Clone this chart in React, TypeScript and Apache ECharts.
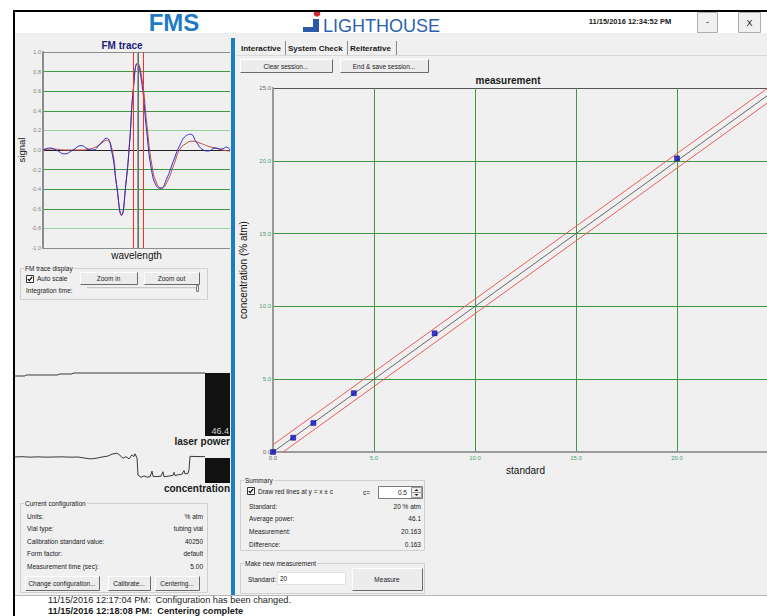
import React, { useEffect, useRef } from 'react';
import * as echarts from 'echarts';

const FONT = '"Liberation Sans", Arial, Helvetica, sans-serif';

// FM trace: scan position (0–100 across the window) and normalised signal
const fmBluePos = [0, 3.6, 7, 11.6, 16, 20.5, 24, 26.8, 30.4, 34, 36.6, 39.3, 42, 44.3, 46.4, 48.2, 50.4, 52.7, 55.4, 58, 60.7, 63, 66, 69.6, 73.2, 76.8, 79, 82, 85.7, 88.4, 92, 95.5, 98.2, 100];
const fmBlueSig = [0, 0.02, 0, -0.04, 0, 0.045, 0.01, 0, 0.06, 0.12, 0, -0.35, -0.66, -0.35, 0.1, 0.6, 0.88, 0.7, 0.2, -0.2, -0.37, -0.39, -0.3, -0.12, 0.05, 0.15, 0.16, 0.08, 0, -0.01, 0.02, 0.01, 0.03, 0];
const fmRedPos = [0, 5, 12, 20, 25, 30, 34, 37, 39.3, 42, 44.3, 46.4, 48.2, 50.6, 53, 55.6, 58.2, 61, 63.5, 66.5, 70, 73, 76, 80, 84, 88, 92, 96, 100];
const fmRedSig = [0, 0.01, 0, 0, 0.01, 0.05, 0.1, 0, -0.35, -0.67, -0.35, 0.1, 0.6, 0.89, 0.72, 0.25, -0.15, -0.35, -0.39, -0.32, -0.15, 0, 0.06, 0.09, 0.07, 0.04, 0.02, 0, -0.01];
const fmWindow = [48.1, 53.5];
const fmCentre = [50.3, 50.9];

// Laser power strip (sample index, power)
const laserT = [0, 11, 12, 44, 45, 58, 59, 191];
const laserP = [46.25, 46.25, 46.3, 46.3, 46.35, 46.35, 46.4, 46.4];

// Concentration strip (sample index, % atm)
const concT = [0, 8, 16, 24, 32, 40, 48, 56, 64, 70, 76, 82, 88, 94, 98, 103, 106, 109, 112, 115, 118, 120, 121, 123, 124, 127, 130, 133, 136, 138, 139, 143, 147, 149, 150, 155, 159, 160, 161, 165, 168, 170, 171, 174, 175, 176, 183, 191];
const concV = [20.0, 20.2, 19.9, 20.1, 19.9, 20.0, 20.1, 19.9, 20.0, 19.4, 18.8, 19.2, 20.0, 20.6, 21.8, 22.4, 21.0, 19.2, 20.2, 18.8, 21.4, 20.2, 22.0, 19.5, 8.6, 7.3, 8.2, 7.4, 7.6, 11.2, 7.9, 7.8, 8.0, 10.8, 7.7, 8.1, 8.5, 10.4, 8.4, 9.0, 9.2, 11.6, 9.4, 9.8, 12.0, 20.4, 20.3, 20.2];

// System check: standards vs measured concentration
const standards = [0, 1, 2, 4, 8, 20];
const measured = [0, 0.98, 1.99, 4.04, 8.15, 20.163];
const cBand = 0.5;

// Panel texts
const tabLabels = ['Interactive', 'System Check', 'Reiterative'];
const configLabels = ['Units:', 'Vial type:', 'Calibration standard value:', 'Form factor:', 'Measurement time (sec):'];
const configValues = ['% atm', 'tubing vial', '40250', 'default', '5.00'];
const summaryLabels = ['Standard:', 'Average power:', 'Measurement:', 'Difference:'];
const summaryValues = ['20 % atm', '46.1', '20.163', '0.163'];
const statusLines = [
  '11/15/2016 12:17:04 PM:  Configuration has been changed.',
  '11/15/2016 12:18:08 PM:  Centering complete',
];

const zip = (a: number[], b: number[]) => a.map((v, i) => [v, b[i]]);
const fmt1 = (v: number) => (Math.abs(v) < 1e-9 ? 0 : v).toFixed(1);

const BG = '#f0f0f0';

function text(x: number, y: number, s: string, size = 6.5, o: any = {}): any {
  const align = o.align || 'left';
  return {
    type: 'text',
    x,
    y,
    z: o.z ?? 30,
    rotation: o.rotation || 0,
    style: {
      text: s,
      fill: o.fill || '#1a1a1a',
      fontSize: size,
      fontWeight: o.bold ? 'bold' : 'normal',
      fontFamily: FONT,
      textAlign: align,
      textVerticalAlign: 'middle',
      align,
      verticalAlign: 'middle',
      backgroundColor: o.bg,
      padding: o.bg ? [0, 1] : 0,
    },
  };
}

function rect(x: number, y: number, w: number, h: number, fill: string | null, stroke?: string, z = 20, lw = 1): any {
  return {
    type: 'rect',
    z,
    shape: { x, y, width: w, height: h },
    style: { fill: fill || 'none', stroke: stroke || 'none', lineWidth: lw },
  };
}

function button(x: number, y: number, w: number, h: number, label: string, size = 6.5): any[] {
  return [
    rect(x + 0.5, y + 0.5, w, h, '#ececec', '#ffffff', 22),
    {
      type: 'polyline',
      z: 23,
      shape: { points: [[x + w + 0.5, y + 0.5], [x + w + 0.5, y + h + 0.5], [x + 0.5, y + h + 0.5]] },
      style: { stroke: '#6a6a6a', fill: 'none', lineWidth: 1 },
    },
    text(x + w / 2, y + h / 2 + 0.5, label, size, { align: 'center' }),
  ];
}

function groupBox(x: number, y: number, w: number, h: number, title: string): any[] {
  return [rect(x + 0.5, y + 0.5, w, h, null, '#cfcfcf', 21), text(x + 4, y, title, 6.5, { bg: BG })];
}

function checkbox(x: number, y: number): any[] {
  return [
    rect(x + 0.5, y + 0.5, 7, 7, '#ffffff', '#333333', 24),
    {
      type: 'polyline',
      z: 25,
      shape: { points: [[x + 1.8, y + 3.8], [x + 3.3, y + 5.6], [x + 6.2, y + 1.8]] },
      style: { stroke: '#000', fill: 'none', lineWidth: 1.2 },
    },
  ];
}

function buildGraphics(): any[] {
  const g: any[] = [];
  // window body
  g.push(rect(0, 0, 767, 616, '#ffffff', undefined, -20));
  g.push(rect(15, 33, 752, 562, BG, undefined, -19));
  g.push(rect(15, 595, 752, 21, '#ffffff', undefined, -19));
  g.push({ type: 'line', z: -18, shape: { x1: 15, y1: 595.5, x2: 767, y2: 595.5 }, style: { stroke: '#b8b8b8', lineWidth: 1 } });
  g.push(rect(14, 11, 770, 620, null, '#000000', 40, 2));
  g.push(rect(231, 38, 4, 557, '#1c7dc0', undefined, 35));

  // header
  g.push(text(174, 22, 'FMS', 24, { bold: true, fill: '#1f7ac6', align: 'center' }));
  g.push({ type: 'circle', z: 30, shape: { cx: 317, cy: 13.5, r: 3.3 }, style: { fill: '#d42a2e' } });
  g.push(rect(313, 19, 6, 13, '#2a5aa8', undefined, 30));
  g.push(rect(303, 27, 16, 5, '#2a5aa8', undefined, 30));
  g.push(text(323, 25.5, 'LIGHTHOUSE', 18, { fill: '#2d62ae' }));
  g.push(text(630, 21.5, '11/15/2016 12:34:52 PM', 7.5, { bold: true, align: 'center' }));
  g.push(rect(697.5, 12.5, 20, 20, BG, '#adadad', 30));
  g.push(text(707.5, 22, '-', 9, { align: 'center' }));
  g.push(rect(738.5, 12.5, 22, 20, BG, '#adadad', 30));
  g.push(text(749.5, 22.5, 'X', 9, { align: 'center' }));

  // FM trace panel
  g.push(text(122, 45.5, 'FM trace', 10, { bold: true, fill: '#1c1c78', align: 'center' }));
  g.push(...groupBox(20, 268, 187, 31, 'FM trace display'));
  g.push(...checkbox(26, 275));
  g.push(text(37, 278.5, 'Auto scale'));
  g.push(...button(80, 272, 57, 12, 'Zoom in'));
  g.push(...button(144, 272, 55, 12, 'Zoom out'));
  g.push(text(26, 290.5, 'Integration time:'));
  g.push(rect(87, 287.5, 111, 1, '#a0a0a0', undefined, 24));
  g.push(rect(87, 288.5, 111, 1, '#ffffff', undefined, 24));
  g.push(rect(196.5, 285.5, 2, 6, '#e8e8e8', '#7a7a7a', 25));

  // strip readouts
  g.push(rect(205, 373, 25, 63, '#111111', undefined, 25));
  g.push(text(229, 431, '46.4', 9, { fill: '#d0d0d0', align: 'right' }));
  g.push(text(230, 441, 'laser power', 10, { bold: true, align: 'right' }));
  g.push(rect(205, 458, 25, 25, '#111111', undefined, 25));
  g.push(text(230, 488.5, 'concentration', 10, { bold: true, align: 'right' }));

  // current configuration
  g.push(...groupBox(20, 503, 187, 89, 'Current configuration'));
  const rowsY = [516, 528.5, 541, 553.5, 566];
  configLabels.forEach((l, i) => {
    g.push(text(27, rowsY[i], l));
    g.push(text(203, rowsY[i], configValues[i], 6.5, { align: 'right' }));
  });
  g.push(...button(25, 576, 74, 14, 'Change configuration...'));
  g.push(...button(108, 576, 42, 14, 'Calibrate...'));
  g.push(...button(155, 576, 44, 14, 'Centering...'));

  // tabs
  const tabX = [241, 288, 350];
  tabLabels.forEach((t, i) => g.push(text(tabX[i], 48, t, 8, { bold: true })));
  [285, 347, 396].forEach((x) =>
    g.push({ type: 'line', z: 24, shape: { x1: x + 0.5, y1: 41, x2: x + 0.5, y2: 55 }, style: { stroke: '#8a8a8a', lineWidth: 1 } })
  );
  g.push({ type: 'line', z: 24, shape: { x1: 236, y1: 55.5, x2: 767, y2: 55.5 }, style: { stroke: '#d8d8d8', lineWidth: 1 } });
  g.push(...button(240, 59, 92, 13, 'Clear session...'));
  g.push(...button(340, 59, 88, 13, 'End & save session...'));
  g.push(text(508, 80, 'measurement', 10, { bold: true, align: 'center' }));

  // summary
  g.push(...groupBox(240, 480, 184, 70, 'Summary'));
  g.push(...checkbox(247, 487));
  g.push(text(258, 491, 'Draw red lines at y = x \u00b1 c'));
  g.push(text(363, 492, 'c='));
  g.push(rect(378.5, 486.5, 44, 12, '#ffffff', '#7a7a7a', 24));
  g.push(text(407, 492.5, String(cBand), 6.5, { align: 'right' }));
  g.push(rect(411.5, 487.5, 10, 5, '#ececec', '#9a9a9a', 25));
  g.push(rect(411.5, 492.5, 10, 5, '#ececec', '#9a9a9a', 25));
  g.push({ type: 'polygon', z: 26, shape: { points: [[414.5, 491], [416.5, 489], [418.5, 491]] }, style: { fill: '#222' } });
  g.push({ type: 'polygon', z: 26, shape: { points: [[414.5, 494], [416.5, 496], [418.5, 494]] }, style: { fill: '#222' } });
  const sumY = [506, 518.5, 531.5, 544.5];
  summaryLabels.forEach((l, i) => {
    g.push(text(249, sumY[i], l));
    g.push(text(421, sumY[i], summaryValues[i], 6.5, { align: 'right' }));
  });

  // new measurement
  g.push(...groupBox(240, 563, 184, 30, 'Make new measurement'));
  g.push(text(248, 579, 'Standard:'));
  g.push(rect(277.5, 572.5, 68, 12, '#ffffff', '#e0e0e0', 24));
  g.push(text(280, 578.5, '20'));
  g.push(...button(352, 568, 70, 22, 'Measure'));

  // status log
  g.push(text(48, 600, statusLines[0], 9.2));
  g.push(text(48, 610.6, statusLines[1], 9.2, { bold: true }));
  return g;
}

function buildOption(): any {
  const green = '#3f983f';
  const lightGreen = '#9ad29a';
  const mainSplit = ['#9a9a9a', green, green, green, green, '#555555'];
  const fmSplit = ['#8c8c8c', lightGreen, green, green, green, '#222222', lightGreen, green, green, green, '#8c8c8c'];
  const endLabel = (v: number, lo: number, hi: number) => (v <= lo || v >= hi ? '#6a6a6a' : '#4aa070');
  const nameStyle = (size: number) => ({ fontSize: size, color: '#111', fontFamily: FONT });
  const gridBase = { containLabel: false, outerBoundsMode: 'none', show: false };
  const vLines = (xs: number[], colors: string[]) => ({
    silent: true,
    symbol: ['none', 'none'],
    label: { show: false },
    lineStyle: { type: 'solid', width: 1, color: colors[0] },
    data: xs.map((x, i) => ({ xAxis: x, lineStyle: { color: colors[i % colors.length], type: 'solid', width: 1 } })),
  });

  return {
    animation: false,
    backgroundColor: 'transparent',
    textStyle: { fontFamily: FONT },
    grid: [
      { ...gridBase, left: 43, top: 52, width: 187, height: 196 },
      { ...gridBase, left: 273, top: 88, width: 505, height: 364 },
      { ...gridBase, left: 14, top: 363, width: 191, height: 20 },
      { ...gridBase, left: 14, top: 449, width: 191, height: 40 },
    ],
    xAxis: [
      {
        gridIndex: 0, type: 'value', min: 0, max: 100,
        axisLine: { show: false }, axisTick: { show: false }, axisLabel: { show: false }, splitLine: { show: false },
        name: 'wavelength', nameLocation: 'middle', nameGap: 2, nameTextStyle: nameStyle(10),
      },
      {
        gridIndex: 1, type: 'value', min: 0, max: 25, interval: 5,
        axisLine: { show: true, onZero: false, lineStyle: { color: '#9a9a9a', width: 2 } },
        axisTick: { show: false },
        axisLabel: {
          fontSize: 6, margin: 3, showMaxLabel: false,
          formatter: (v: number) => fmt1(v), color: (v: any) => endLabel(Number(v), 0, 25),
        },
        splitLine: { show: true, lineStyle: { color: mainSplit, width: 1 } },
        name: 'standard', nameLocation: 'middle', nameGap: 10, nameTextStyle: nameStyle(10),
      },
      { gridIndex: 2, type: 'value', show: false, min: 0, max: 191 },
      { gridIndex: 3, type: 'value', show: false, min: 0, max: 191 },
    ],
    yAxis: [
      {
        gridIndex: 0, type: 'value', min: -1, max: 1, interval: 0.2,
        axisLine: { show: true, onZero: false, lineStyle: { color: '#8c8c8c', width: 2 } },
        axisTick: { show: false },
        axisLabel: { fontSize: 5.5, margin: 2, color: '#808080', formatter: (v: number) => fmt1(v) },
        splitLine: { show: true, lineStyle: { color: fmSplit, width: 1 } },
        name: 'signal', nameLocation: 'middle', nameGap: 17, nameTextStyle: nameStyle(9.5),
      },
      {
        gridIndex: 1, type: 'value', min: 0, max: 25, interval: 5,
        axisLine: { show: true, onZero: false, lineStyle: { color: '#9a9a9a', width: 2 } },
        axisTick: { show: false },
        axisLabel: { fontSize: 6, margin: 2, formatter: (v: number) => fmt1(v), color: (v: any) => endLabel(Number(v), 0, 25) },
        splitLine: { show: true, lineStyle: { color: mainSplit, width: 1 } },
        name: 'concentration (% atm)', nameLocation: 'middle', nameGap: 24, nameTextStyle: nameStyle(10),
      },
      { gridIndex: 2, type: 'value', show: false, min: 45.9, max: 46.9 },
      { gridIndex: 3, type: 'value', show: false, min: 0, max: 25 },
    ],
    series: [
      {
        type: 'line', xAxisIndex: 0, yAxisIndex: 0, data: zip(fmRedPos, fmRedSig),
        smooth: 0.5, symbol: 'none', lineStyle: { color: '#c44a3c', width: 1 }, z: 3,
        markLine: vLines(fmWindow, ['#ff2a2a']),
      },
      {
        type: 'line', xAxisIndex: 0, yAxisIndex: 0, data: zip(fmBluePos, fmBlueSig),
        smooth: 0.5, symbol: 'none', lineStyle: { color: '#2c2cc8', width: 1 }, z: 4,
        markLine: vLines(fmCentre, ['#a0a0a0', '#6a6a6a']),
      },
      {
        type: 'line', xAxisIndex: 1, yAxisIndex: 1, data: [[0, 0], [25, 25]],
        symbol: 'none', lineStyle: { color: '#666666', width: 1 }, z: 3,
      },
      {
        type: 'line', xAxisIndex: 1, yAxisIndex: 1, data: [[0, cBand], [25 - cBand, 25]],
        symbol: 'none', lineStyle: { color: '#f05a5a', width: 1 }, z: 3,
      },
      {
        type: 'line', xAxisIndex: 1, yAxisIndex: 1, data: [[cBand, 0], [25, 25 - cBand]],
        symbol: 'none', lineStyle: { color: '#f05a5a', width: 1 }, z: 3,
      },
      {
        type: 'scatter', xAxisIndex: 1, yAxisIndex: 1, data: zip(standards, measured),
        symbol: 'rect', symbolSize: 5, clip: false,
        itemStyle: { color: '#0a0ad2', borderColor: '#000060', borderWidth: 0.6 }, z: 5,
      },
      {
        type: 'line', xAxisIndex: 2, yAxisIndex: 2, data: zip(laserT, laserP),
        symbol: 'none', lineStyle: { color: '#3a3a3a', width: 1 },
      },
      {
        type: 'line', xAxisIndex: 3, yAxisIndex: 3, data: zip(concT, concV),
        symbol: 'none', lineStyle: { color: '#3a3a3a', width: 1 },
      },
    ],
    graphic: { elements: buildGraphics() },
  };
}

export default function App() {
  const ref = useRef<HTMLDivElement>(null);
  useEffect(() => {
    if (!ref.current) return;
    const chart = echarts.init(ref.current, null, { renderer: 'svg' });
    chart.setOption(buildOption());
    return () => chart.dispose();
  }, []);
  return (
    <div
      ref={ref}
      style={{ position: 'fixed', left: 0, top: 0, width: 767, height: 616, background: '#ffffff' }}
    />
  );
}
